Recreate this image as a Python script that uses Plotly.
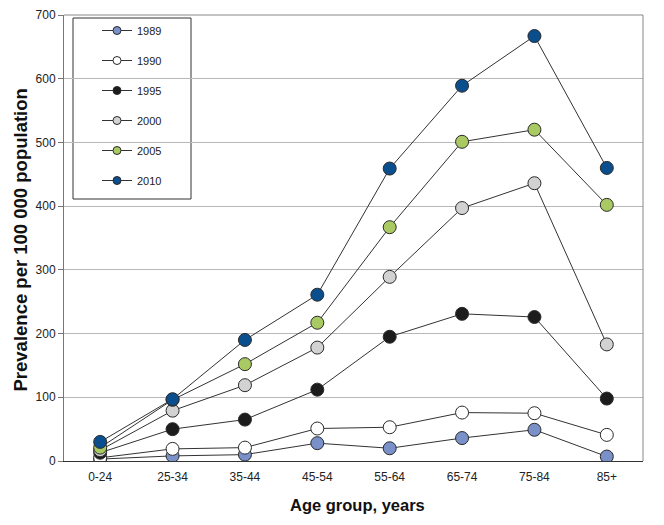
import plotly.graph_objects as go

age_groups = ["0-24", "25-34", "35-44", "45-54", "55-64", "65-74", "75-84", "85+"]
years = ["1989", "1990", "1995", "2000", "2005", "2010"]

v1989 = [3, 8, 10, 28, 20, 36, 49, 7]
v1990 = [5, 19, 21, 51, 53, 76, 75, 41]
v1995 = [13, 50, 65, 112, 195, 231, 226, 98]
v2000 = [17, 79, 119, 178, 289, 397, 436, 183]
v2005 = [21, 96, 152, 217, 367, 501, 520, 402]
v2010 = [30, 97, 190, 261, 459, 589, 667, 460]

series = [v1989, v1990, v1995, v2000, v2005, v2010]
colors = ["#7a90c8", "#ffffff", "#1c1c1c", "#d2d2d2", "#a9c963", "#0a4e8e"]

fig = go.Figure()
for name, vals, col in zip(years, series, colors):
    fig.add_trace(go.Scatter(
        x=age_groups, y=vals, name=name, mode="lines+markers",
        showlegend=False,
        line=dict(color="#333333", width=1),
        marker=dict(size=13, color=col, line=dict(color="#2a2a2a", width=1)),
    ))
# legend entries with small symbols
for name, col in zip(years, colors):
    fig.add_trace(go.Scatter(
        x=[None], y=[None], name=name, mode="lines+markers",
        legendgroup=name, showlegend=True,
        line=dict(color="#333333", width=1),
        marker=dict(size=8, color=col, line=dict(color="#2a2a2a", width=1)),
    ))

font_family = "Liberation Sans, Arial, sans-serif"
OFF = 8  # page body margin
W, H = 656, 517
L, R, T, B = 56, 21, 7, 64
pw, ph = W - L - R, H - T - B

def px(x):
    return (x - OFF - L) / pw

def py(y):
    return (H - B - (y - OFF)) / ph

fig.update_layout(
    width=W, height=H,
    margin=dict(l=L, r=R, t=T, b=B, autoexpand=False),
    paper_bgcolor="white", plot_bgcolor="white",
    font=dict(family=font_family, size=12, color="#222222"),
    showlegend=True,
    legend=dict(
        x=px(97), y=py(16), xanchor="left", yanchor="top",
        borderwidth=0, bgcolor="rgba(0,0,0,0)",
        font=dict(size=11, color="#222222"),
        tracegroupgap=11,
        itemwidth=30,
    ),
    xaxis=dict(
        type="category", range=[-0.5, 7.5], automargin=False,
        showline=True, linecolor="#333333", linewidth=1,
        ticks="outside", ticklen=5, tickcolor="rgba(0,0,0,0)",
        showgrid=False,
        tickfont=dict(size=12, color="#222222"),
    ),
    yaxis=dict(
        range=[0, 700], dtick=100, automargin=False,
        showline=True, linecolor="#777777", linewidth=1,
        ticks="outside", ticklen=5, tickcolor="#777777",
        showgrid=True, gridcolor="#b8b8b8", gridwidth=1,
        zeroline=False, ticklabeloverflow="allow",
        tickfont=dict(size=12, color="#222222"),
    ),
    shapes=[
        dict(type="line", xref="paper", yref="paper", x0=0, x1=1, y0=1, y1=1,
             line=dict(color="#888888", width=1)),
        dict(type="line", xref="paper", yref="paper", x0=1, x1=1, y0=0, y1=1,
             line=dict(color="#888888", width=1)),
        dict(type="rect", xref="paper", yref="paper",
             x0=px(73), x1=px(191), y0=py(199), y1=py(18),
             line=dict(color="#333333", width=1), fillcolor="white", layer="below"),
    ],
    annotations=[
        dict(text="<b>Prevalence per 100 000 population</b>", xref="paper", yref="paper",
             x=px(19.5), y=py(240), textangle=-90, showarrow=False,
             xanchor="center", yanchor="middle",
             font=dict(size=18.5, color="#111111")),
        dict(text="<b>Age group, years</b>", xref="paper", yref="paper",
             x=px(357.5), y=py(505), showarrow=False,
             xanchor="center", yanchor="middle",
             font=dict(size=16.5, color="#111111")),
    ],
)

fig.write_html("out.html")
